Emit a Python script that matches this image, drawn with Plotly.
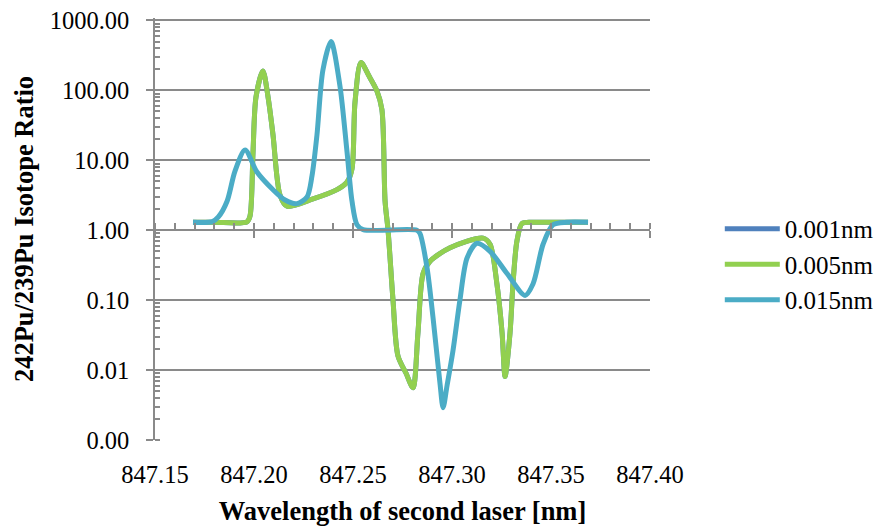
import plotly.graph_objects as go

# ---- data ----
series_names = ["0.001nm", "0.005nm", "0.015nm"]

x_005 = [847.1692, 847.1800, 847.1965, 847.1980, 847.1995, 847.2010, 847.2045, 847.2071,
         847.2096, 847.2131, 847.2167, 847.2298, 847.2419, 847.2470, 847.2495, 847.2510,
         847.2540, 847.2581, 847.2621, 847.2646, 847.2662, 847.2677, 847.2702, 847.2727,
         847.2768, 847.2803, 847.2828, 847.2854, 847.2889, 847.2990, 847.3157, 847.3192,
         847.3227, 847.3253, 847.3268, 847.3293, 847.3308, 847.3328, 847.3354, 847.3409,
         847.3550, 847.3687]
y_005 = [1.3, 1.3, 1.32, 1.6, 13, 80, 190, 80,
         23, 3.2, 2.2, 2.8, 3.8, 4.9, 7.6, 67,
         250, 160, 98, 53, 2.6, 1.0, 0.1, 0.016,
         0.009, 0.0056, 0.034, 0.24, 0.36, 0.56, 0.77, 0.63,
         0.17, 0.034, 0.0081, 0.034, 0.17, 0.7, 1.25, 1.3,
         1.3, 1.3]

x_001 = list(x_005)
y_001 = list(y_005)

x_015 = [847.1692, 847.1790, 847.1820, 847.1864, 847.1904, 847.1955, 847.2015, 847.2096,
         847.2157, 847.2217, 847.2268, 847.2293, 847.2318, 847.2348, 847.2389, 847.2434,
         847.2470, 847.2495, 847.2520, 847.2551, 847.2823, 847.2838, 847.2874, 847.2904,
         847.2939, 847.2955, 847.2975, 847.3005, 847.3040, 847.3076, 847.3126, 847.3192,
         847.3278, 847.3369, 847.3409, 847.3460, 847.3510, 847.3581, 847.3687]
y_015 = [1.3, 1.33, 1.55, 2.6, 7, 14, 6.8, 3.8,
         2.7, 2.4, 3.0, 6, 23, 195, 500, 116,
         13, 2.6, 1.2, 1.02, 1.0, 0.9, 0.29, 0.057,
         0.0066, 0.0029, 0.006, 0.019, 0.1, 0.40, 0.65, 0.5,
         0.24, 0.117, 0.17, 0.63, 1.2, 1.3, 1.3]

x_tickvals = [847.15, 847.20, 847.25, 847.30, 847.35, 847.40]
x_ticktext = ["847.15", "847.20", "847.25", "847.30", "847.35", "847.40"]
y_tickvals = [0.001, 0.01, 0.1, 1, 10, 100, 1000]
y_ticktext = ["0.00", "0.01", "0.10", "1.00", "10.00", "100.00", "1000.00"]

colors = ["#4F81BD", "#92D050", "#4BACC6"]

FONT = "Liberation Serif, Times New Roman, serif"
AXIS_COL = "#8a8a8a"
x_range = [x_tickvals[0], x_tickvals[-1]]
y_log_range = [-3.0, 3.035]
cross_pos = (0 - y_log_range[0]) / (y_log_range[1] - y_log_range[0])

fig = go.Figure()
data = [(x_001, y_001), (x_005, y_005), (x_015, y_015)]
for i, (name, (xs, ys)) in enumerate(zip(series_names, data)):
    fig.add_trace(go.Scatter(
        x=xs, y=ys, name=name, mode="lines",
        line=dict(color=colors[i], width=5, shape="spline", smoothing=0.8),
    ))

# helper traces so the crossing x-axes are drawn
for ax in ["x2", "x3"]:
    fig.add_trace(go.Scatter(x=[None], y=[None], xaxis=ax, yaxis="y",
                             showlegend=False, hoverinfo="skip"))

fig.update_layout(
    width=875, height=519,
    margin=dict(l=147, r=233, t=10, b=87, autoexpand=False),
    paper_bgcolor="white", plot_bgcolor="white",
    font=dict(family=FONT, size=24.5, color="black"),
    showlegend=True,
    legend=dict(x=1.141, y=0.416, xanchor="left", yanchor="middle",
                font=dict(family=FONT, size=25, color="black"),
                itemwidth=55, bgcolor="rgba(0,0,0,0)"),
    xaxis=dict(range=x_range, showgrid=False, zeroline=False, showline=False,
               tickmode="array", tickvals=x_tickvals, ticktext=x_ticktext,
               ticks="", ticklabelstandoff=17, automargin=False,
               ticklabeloverflow="allow",
               title=dict(text="<b>Wavelength of second laser [nm]</b>",
                          font=dict(family=FONT, size=26.5), standoff=14)),
    xaxis2=dict(range=x_range, overlaying="x", anchor="free", position=cross_pos,
                showgrid=False, zeroline=False, showline=True, linecolor=AXIS_COL,
                linewidth=1.5, showticklabels=False, tickmode="array",
                tickvals=x_tickvals, ticks="outside", ticklen=7, tickwidth=1.5,
                tickcolor=AXIS_COL,
                minor=dict(dtick=0.01, tick0=847.15, ticks="inside", ticklen=6,
                           tickwidth=1.5, tickcolor=AXIS_COL)),
    xaxis3=dict(range=x_range, overlaying="x", anchor="free", position=cross_pos,
                showgrid=False, zeroline=False, showline=False,
                showticklabels=False, tickmode="array", tickvals=x_tickvals,
                ticks="inside", ticklen=6, tickwidth=1.5, tickcolor=AXIS_COL),
    yaxis=dict(type="log", range=y_log_range, tickmode="array",
               tickvals=y_tickvals, ticktext=y_ticktext,
               showgrid=True, gridcolor=AXIS_COL, gridwidth=1.5,
               zeroline=False, showline=True, linecolor=AXIS_COL, linewidth=1.5,
               ticks="outside", ticklen=7, tickwidth=1.5, tickcolor=AXIS_COL,
               ticklabelstandoff=12, automargin=False,
               ticklabeloverflow="allow",
               minor=dict(dtick="D1", ticks="inside", ticklen=5, tickwidth=1.5,
                          tickcolor=AXIS_COL, showgrid=False),
               title=dict(text="<b>242Pu/239Pu Isotope Ratio</b>",
                          font=dict(family=FONT, size=26.5), standoff=8)),
)

fig.write_html("out.html")
